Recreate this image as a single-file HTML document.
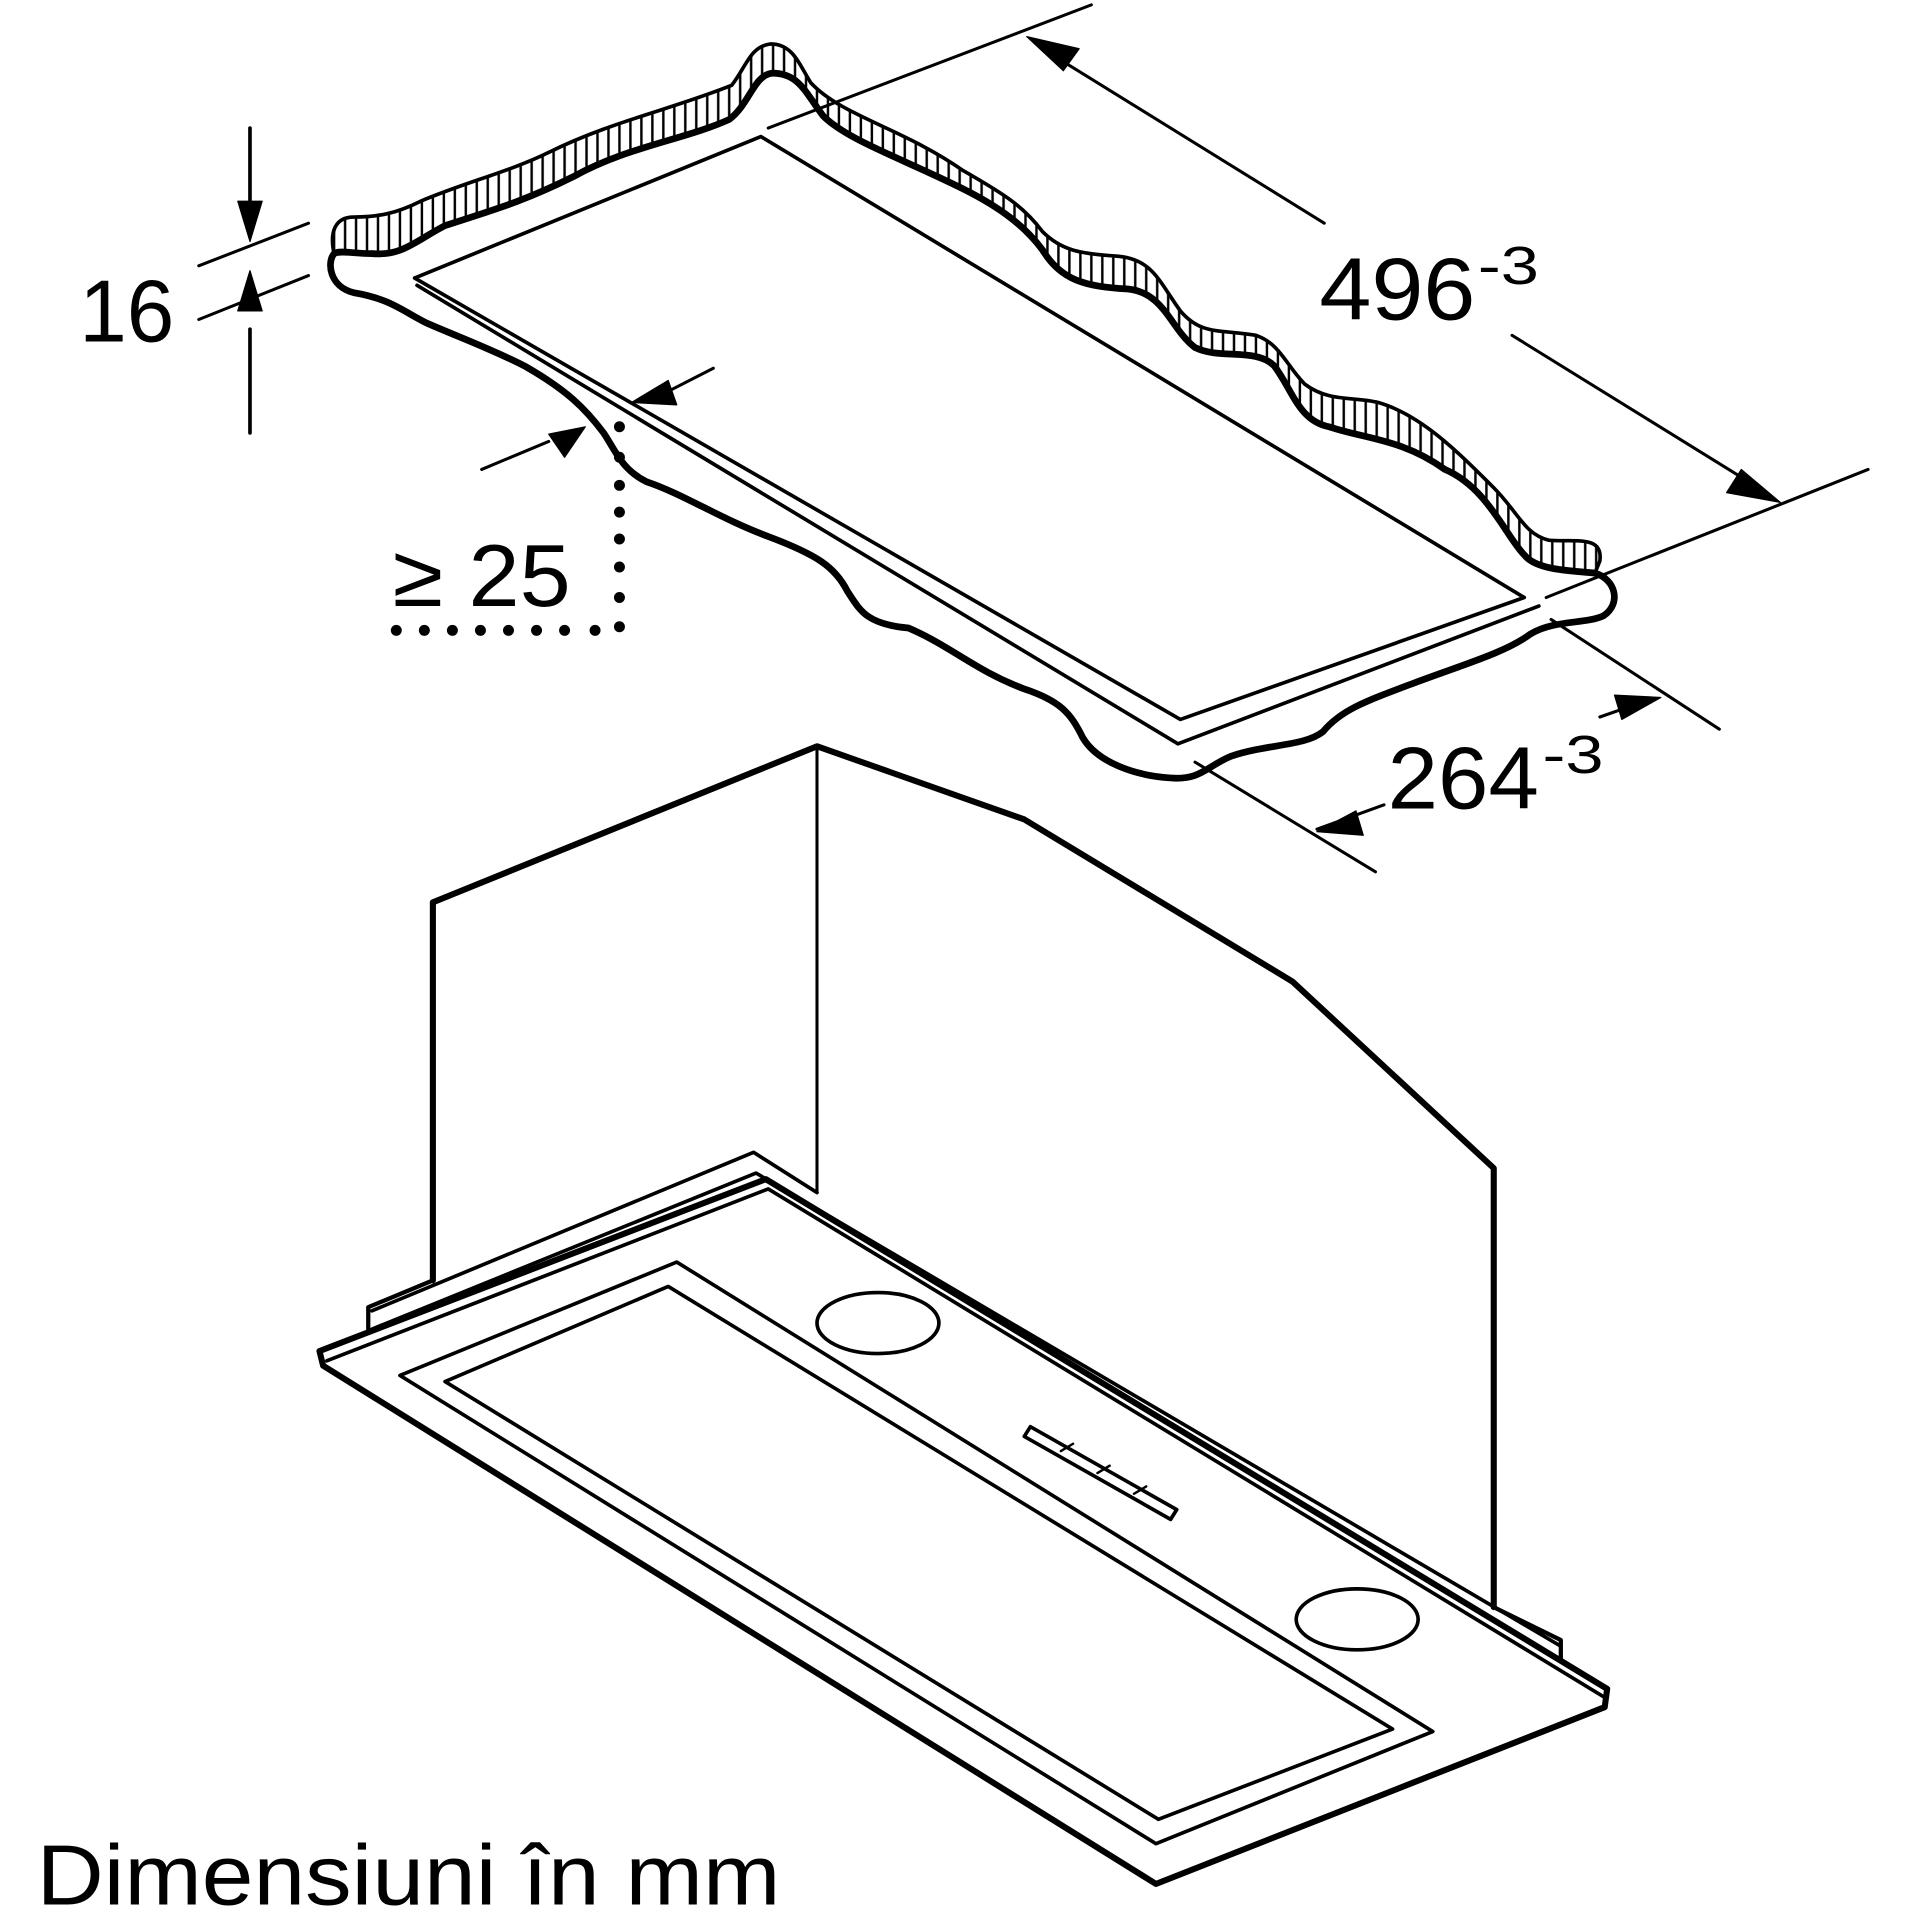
<!DOCTYPE html>
<html><head><style>html,body{margin:0;padding:0;background:#fff}svg{display:block}</style></head>
<body>
<svg width="1912" height="1912" viewBox="0 0 1568 1568" xmlns="http://www.w3.org/2000/svg">
<defs>
<pattern id="h" width="9" height="10" patternUnits="userSpaceOnUse"><line x1="4" y1="0" x2="4" y2="10" stroke="#000" stroke-width="2"/></pattern>
</defs>
<g fill="none" stroke="#000" stroke-linejoin="round" stroke-linecap="round" font-family="Liberation Sans, sans-serif">
<path fill="url(#h)" stroke-width="3" d="M274,208 C270,190 275,178 290,178 C310,178 325,175 345,165 C380,150 420,140 450,125 C500,100 550,90 600,70 C612,55 615,38 632,36 C650,36 655,52 665,68 C690,95 740,105 790,140 C825,160 840,170 855,190 C870,205 885,208 915,210 C945,212 950,230 968,255 C985,275 1000,270 1030,275 C1050,282 1055,300 1070,315 C1090,330 1110,325 1130,330 C1165,340 1195,370 1225,400 C1245,420 1250,438 1270,443 C1290,445 1315,438 1312,460 L1308,470 C1290,468 1260,468 1250,455 C1235,440 1220,400 1185,385 C1150,360 1120,360 1090,350 C1065,345 1060,320 1045,300 C1030,285 1000,295 980,285 C960,270 955,240 925,237 C890,235 870,230 855,205 C840,185 820,170 790,155 C740,130 695,115 675,95 C660,75 655,60 633,60 C618,62 615,85 598,98 C560,115 515,120 470,145 C430,165 405,172 365,185 C340,198 330,210 305,208 Z"/>
<path stroke-width="5.5" d="M305,208 C330,210 340,198 365,185 C405,172 430,165 470,145 C515,120 560,115 598,98 C615,85 618,62 633,60 C655,60 660,75 675,95 C695,115 740,130 790,155 C820,170 840,185 855,205 C870,230 890,235 925,237 C955,240 960,270 980,285 C1000,295 1030,285 1045,300 C1060,320 1065,345 1090,350 C1120,360 1150,360 1185,385 C1220,400 1235,440 1250,455 C1260,468 1290,468 1308,470"/>
<path stroke-width="5.5" d="M1308,470 C1325,475 1330,495 1315,505 C1300,512 1275,508 1255,520 C1235,535 1200,545 1160,560 C1120,575 1100,582 1085,600 C1070,612 1040,610 1010,620 C990,628 985,640 960,638 C930,636 900,625 888,605 C878,585 870,575 840,565 C800,550 780,530 745,515 C710,512 705,500 695,485 C685,465 670,455 630,440 C590,425 560,405 530,395 C510,385 505,370 495,355 C480,335 465,320 430,300 C400,285 380,278 350,265 C330,255 320,245 290,240 C270,235 268,215 274,208 C278,205 290,208 305,208"/>
<polyline stroke-width="3" points="340,228 624,112 1250,490 968,590 340,228"/>
<polyline stroke-width="3" points="342,234 966,610 1262,497"/>
<line x1="630" y1="105" x2="895" y2="4" stroke-width="2.5"/>
<line x1="1268" y1="490" x2="1532" y2="385" stroke-width="2.5"/>
<line x1="855" y1="40" x2="1086" y2="183" stroke-width="2.5"/>
<line x1="1240" y1="275" x2="1450" y2="405" stroke-width="2.5"/>
<polygon fill="#000" stroke-width="1" points="842,30 885,40 872,58"/>
<polygon fill="#000" stroke-width="1" points="1460,412 1416,404 1428,385"/>
<text x="1082" y="262" font-size="72" textLength="128" lengthAdjust="spacingAndGlyphs" fill="#000" stroke="none">496</text>
<text x="1212" y="233" font-size="44" textLength="50" lengthAdjust="spacingAndGlyphs" fill="#000" stroke="none">-3</text>
<line x1="1272" y1="508" x2="1410" y2="598" stroke-width="2.5"/>
<line x1="980" y1="625" x2="1128" y2="715" stroke-width="2.5"/>
<line x1="1080" y1="680" x2="1135" y2="660" stroke-width="2.5"/>
<line x1="1312" y1="588" x2="1335" y2="580" stroke-width="2.5"/>
<polygon fill="#000" stroke-width="1" points="1080,682 1112,665 1118,685"/>
<polygon fill="#000" stroke-width="1" points="1362,572 1330,590 1324,570"/>
<text x="1138" y="663" font-size="72" textLength="124" lengthAdjust="spacingAndGlyphs" fill="#000" stroke="none">264</text>
<text x="1265" y="634" font-size="44" textLength="50" lengthAdjust="spacingAndGlyphs" fill="#000" stroke="none">-3</text>
<line x1="163" y1="218" x2="253" y2="183" stroke-width="2.5"/>
<line x1="163" y1="262" x2="253" y2="226" stroke-width="2.5"/>
<line x1="205" y1="105" x2="205" y2="170" stroke-width="3"/>
<line x1="205" y1="270" x2="205" y2="355" stroke-width="3"/>
<polygon fill="#000" stroke-width="1" points="205,198 195,165 215,165"/>
<polygon fill="#000" stroke-width="1" points="205,222 195,255 215,255"/>
<text x="65" y="280" font-size="72" textLength="78" lengthAdjust="spacingAndGlyphs" fill="#000" stroke="none">16</text>
<line x1="540" y1="325" x2="585" y2="302" stroke-width="2.5"/>
<polygon fill="#000" stroke-width="1" points="518,330 548,312 555,332"/>
<line x1="395" y1="385" x2="450" y2="362" stroke-width="2.5"/>
<polygon fill="#000" stroke-width="1" points="480,350 450,356 463,375"/>
<g fill="#000" stroke="none">
<circle cx="508" cy="350" r="4.5"/><circle cx="508" cy="375" r="4.5"/><circle cx="508" cy="398" r="4.5"/><circle cx="508" cy="420" r="4.5"/><circle cx="508" cy="442" r="4.5"/><circle cx="508" cy="465" r="4.5"/><circle cx="508" cy="490" r="4.5"/><circle cx="508" cy="514" r="4.5"/>
<circle cx="325" cy="517" r="4.5"/><circle cx="348" cy="517" r="4.5"/><circle cx="371" cy="517" r="4.5"/><circle cx="394" cy="517" r="4.5"/><circle cx="417" cy="517" r="4.5"/><circle cx="440" cy="517" r="4.5"/><circle cx="463" cy="517" r="4.5"/><circle cx="488" cy="517" r="4.5"/>
<text x="322" y="497" font-size="72" textLength="146" lengthAdjust="spacingAndGlyphs">≥ 25</text>
</g>
<polyline stroke-width="5" points="355,1050 355,740 670,612 840,672 1060,805 1225,958 1225,1318"/>
<line x1="670" y1="612" x2="670" y2="978" stroke-width="2.5"/>
<polyline stroke-width="3.5" points="302,1090 302,1072 355,1050"/>
<polyline stroke-width="3" points="305,1075 618,945 670,978"/>
<polyline stroke-width="3" points="305,1090 620,962 1280,1350"/>
<polyline stroke-width="3.5" points="1225,1318 1280,1345 1280,1360"/>
<path stroke-width="5" d="M262,1108 L628,967 L1318,1385 L1316,1400 L948,1545 L265,1120 Z"/>
<polyline stroke-width="3" points="268,1116 630,975 1316,1392"/>
<polygon stroke-width="3" points="328,1128 555,1035 1175,1420 948,1512"/>
<polygon stroke-width="3" points="365,1133 548,1055 1142,1418 950,1492"/>
<ellipse cx="720" cy="1085" rx="50" ry="25" stroke-width="3"/>
<ellipse cx="1113" cy="1328" rx="50" ry="25" stroke-width="3"/>
<polygon stroke-width="3" points="845,1170 965,1238 960,1246 840,1178"/>
<line x1="870" y1="1190" x2="880" y2="1184" stroke-width="2"/>
<line x1="900" y1="1208" x2="910" y2="1202" stroke-width="2"/>
<line x1="930" y1="1225" x2="940" y2="1219" stroke-width="2"/>
<text x="30" y="1562" font-size="70" textLength="610" lengthAdjust="spacingAndGlyphs" fill="#000" stroke="none">Dimensiuni în mm</text>
</g>
</svg>
</body></html>
